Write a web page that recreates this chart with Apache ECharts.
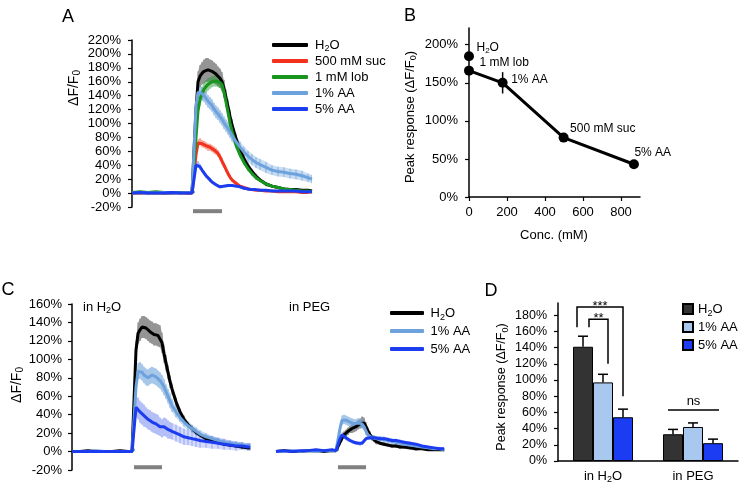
<!DOCTYPE html>
<html><head><meta charset="utf-8">
<script src="https://cdn.jsdelivr.net/npm/echarts@6/dist/echarts.min.js"></script>
<style>html,body{margin:0;padding:0;background:#fff}#c{width:752px;height:487px}</style>
</head><body><div id="c"></div>
<script>
// ---------- Panel A (time course, index units) ----------
const tA = [0,4,8,12,16,20,24,28,30,31,32,33,34,35,36,37,38,39,40,41,42,43,44,45,46,47,48,49,50,52,54,56,58,60,62,64,67,70,73,76,79,82,85,88,90];
const aH2O = [0,1,0,1,0,0,1,0, 0,2, 120,160,168,172,175,177,177,176,175,173, 171,168,165,160,150,137,124,110,98, 78,62,49,39,31,24,19,13,10,8,6,5,5,4,4,3];
const aSuc = [0,0,1,0,0,1,0,0, 0,1, 55,72,74,71,70,68,66,66,64,62, 60,57,52,46,40,34,28,23,19, 14,10,8,6,5,4,4,3,3,2,2,2,2,1,1,2];
const aLob = [1,2,1,2,1,1,1,1, 1,2, 80,118,135,143,149,153,156,158,160,161, 161,160,159,156,145,131,116,101,89, 69,55,44,35,28,22,18,13,10,8,6,5,4,3,3,2];
const aAA1 = [0,1,0,0,1,0,0,1, 0,2, 125,145,146,143,140,136,132,129,126,121, 117,114,110,106,101,97,93,88,83, 74,66,59,53,48,44,41,37,33,31,30,28,27,25,22,20];
const aAA5 = [0,1,0,0,0,1,0,0, 0,1, 40,42,38,33,29,25,22,19,16,14, 12,10,9,9,10,10,11,11,11, 10,9,7,6,5,5,4,4,3,3,3,3,3,2,2,2];
const aH2OErr = [1,1,1,1,1,1,1,1, 1,1, 10,15,16,16,17,17,17,16,16,15, 15,14,14,14,13,12,11,10,9, 8,7,6,5,4,4,3,3,2,2,2,2,1,1,1,1];
const aSucErr = [1,1,1,1,1,1,1,1, 1,1, 4,5,5,5,5,5,5,5,5,5, 5,5,5,5,4,4,4,3,3, 3,2,2,2,1,1,1,1,1,1,1,1,1,1,1,1];
const aLobErr = [1,1,1,1,1,1,1,1, 1,1, 8,9,10,10,10,9,9,8,8,8, 8,8,8,8,8,7,7,6,6, 5,4,4,3,3,3,2,2,2,2,1,1,1,1,1,1];
const aAA1Err = [1,1,1,1,1,1,1,1, 1,1, 8,9,9,9,9,9,9,9,9,9, 9,9,9,9,9,9,9,9,9, 8,8,8,8,8,8,8,8,7,7,7,7,7,7,6,6];
const aAA5Err = [1,1,1,1,1,1,1,1, 1,1, 3,4,4,3,3,3,3,3,2,2, 2,2,2,2,2,2,2,2,2, 2,2,2,1,1,1,1,1,1,1,1,1,1,1,1,1];
const stimA = [30.5, 45];
const stimALevel = -26;

// ---------- Panel B ----------
const bConc = [0, 0, 177, 498, 868];
const bPeak = [185, 166, 150, 78, 43];
const bErr = [4, 4, 14, 4, 3];
const bLabels = ['H2O', '1 mM lob', '1% AA', '500 mM suc', '5% AA'];

// ---------- Panel C ----------
const tC = [0,4,8,12,16,20,24,28,30,31,32,33,34,35,36,37,38,39,40,41,42,43,44,45,46,47,48,49,50,52,54,56,58,60,62,64,67,70,73,76,79,82,85,88,89];
const cH2O = [0,0,1,0,0,0,1,0, 0,2, 110,128,132,135,135,134,132,130,129,127, 127,126,125,118,106,96,86,76,68, 54,43,35,29,25,21,18,14,12,10,8,7,6,5,4,4];
const cAA1 = [0,0,0,1,0,0,0,0, 0,2, 70,87,88,86,83,81,80,82,83,82, 81,79,77,74,70,65,60,55,50, 43,37,32,28,25,22,19,16,14,12,10,9,8,7,6,6];
const cAA5 = [0,0,0,0,0,0,0,0, 0,2, 48,47,43,41,39,37,35,34,32,31, 30,29,27,25,27,26,24,23,22, 20,18,16,15,14,13,12,11,10,9,8,7,6,6,5,5];
const cH2OErr = [1,1,1,1,1,1,1,1, 1,1, 10,12,12,12,12,12,12,12,12,12, 12,12,12,11,10,9,8,7,6, 5,4,4,3,3,3,2,2,2,2,2,2,2,2,2,2];
const cAA1Err = [1,1,1,1,1,1,1,1, 1,1, 8,9,9,9,9,9,9,9,9,9, 9,9,9,9,9,8,8,8,7, 6,5,5,5,4,4,4,4,3,3,3,3,3,3,3,3];
const cAA5Err = [1,1,1,1,1,1,1,1, 1,1, 10,12,12,12,12,11,11,11,11,11, 11,11,10,10,10,10,10,9,9, 9,9,9,8,8,8,8,7,7,6,6,5,5,4,4,4];
const tP = [0,4,8,12,16,20,24,28,30,31,32,33,34,35,36,37,38,39,40,41,42,43,44,45,46,47,48,49,50,52,54,56,58,60,62,64,67,70,73,76,79,82,84];
const pH2O = [0,1,0,0,1,1,0,1, 1,2, 10,15,18,20,22,24,25,26,27,29, 30,32,31,27,22,18,15,13,11, 9,8,7,6,6,5,5,4,3,3,2,2,2,2];
const pAA1 = [0,0,1,0,1,0,1,1, 1,2, 25,34,35,34,33,32,31,30,30,31, 31,30,27,22,18,16,15,15,14, 14,13,12,11,10,9,8,7,6,5,4,3,3,2];
const pAA5 = [0,1,0,1,1,2,1,2, 1,2, 14,18,17,15,13,12,11,10,9,9, 8,9,11,14,15,15,15,15,15, 14,14,13,12,12,11,10,9,8,6,5,4,3,3];
const pH2OErr = [1,1,1,1,1,1,1,1, 1,1, 3,4,4,4,4,4,5,5,5,5, 5,6,6,5,4,4,3,3,3, 2,2,2,2,2,2,2,2,2,1,1,1,1,1];
const pAA1Err = [1,1,1,1,1,1,1,1, 1,1, 4,5,5,5,5,5,5,5,5,5, 5,5,4,4,4,3,3,3,3, 3,3,3,3,3,2,2,2,2,2,2,2,2,2];
const pAA5Err = [1,1,1,1,1,1,1,1, 1,1, 2,3,3,3,2,2,2,2,2,2, 2,2,2,2,2,2,2,2,2, 2,2,2,2,2,2,2,2,1,1,1,1,1,1];
const stimC = [31, 45];
const stimCLevel = -17;

// ---------- Panel D ----------
const dGroups = ['in H2O', 'in PEG'];
const dNames = ['H2O', '1% AA', '5% AA'];
const dH2O = [141, 33];
const dAA1 = [97, 42];
const dAA5 = [54, 22];
const dH2OErr = [13, 6];
const dAA1Err = [10, 5];
const dAA5Err = [10, 5];
const sigLabels = ['***', '**', 'ns'];
const sigGroup = [0, 0, 1];
const sigFromBar = [0, 0, 0];
const sigToBar = [2, 1, 2];
const sigLevel = [190, 175, 63];
const sigFromEnd = [165, 165, null];
const sigToEnd = [80, 120, null];

// ---------- styling ----------
const FONT = "'Liberation Sans', Arial, Helvetica, sans-serif";
const COL = {h2o:'#000000', suc:'#f3321e', lob:'#17951e', aa1:'#6ea2dc', aa5:'#1c3cf0'};
function richT(fs, lh) {
  const sf = Math.round(fs * 0.7);
  return { a:{fontSize:fs, fontFamily:FONT, color:'#000', lineHeight:lh},
           s:{fontSize:sf, fontFamily:FONT, color:'#000', lineHeight:sf, verticalAlign:'bottom'} };
}
function richG(fs, lh) {
  const sf = Math.round(fs * 0.7);
  return { a:{fontSize:fs, fontFamily:FONT, fill:'#000', lineHeight:lh},
           s:{fontSize:sf, fontFamily:FONT, fill:'#000', lineHeight:sf, verticalAlign:'bottom'} };
}
function fmtSub(str) { return '{a|' + str.replace('H2O', 'H}{s|2}{a|O') + '}'; }

const axisLineStyle = {color:'#000', width:1.5};
function yAxisVisible(grid, min, max, interval, custom, fs, margin) {
  const ax = {gridIndex:grid, type:'value', min, max,
    axisLine:{show:true, lineStyle:axisLineStyle},
    axisTick:{show:true, length:4, inside:false, lineStyle:{color:'#000', width:1.2}},
    axisLabel:{show:true, formatter:'{value}%', fontSize:fs, fontFamily:FONT, color:'#000', margin},
    splitLine:{show:false}};
  if (interval) ax.interval = interval;
  if (custom) { ax.axisTick.customValues = custom; ax.axisLabel.customValues = custom; }
  return ax;
}

function lineS(name, ax, t, v, color, w) {
  return {type:'line', name, xAxisIndex:ax, yAxisIndex:ax, data:t.map((x,i)=>[x, v[i]]),
    symbol:'none', lineStyle:{color, width:w || 3}, itemStyle:{color}, color, silent:true, z:3};
}
function bandS(name, ax, t, v, e, fill, stroke) {
  return {type:'custom', name, xAxisIndex:ax, yAxisIndex:ax, silent:true, z:2, clip:true,
    data:t.map((x,i)=>[x, v[i]-(e[i]||0), v[i]+(e[i]||0)]), encode:{x:0, y:[1,2]},
    renderItem:(params, api) => {
      const i = params.dataIndex;
      const ei = e[i] || 0;
      const lo = api.coord([t[i], v[i]-ei]), hi = api.coord([t[i], v[i]+ei]);
      const children = [{type:'line', shape:{x1:lo[0], y1:lo[1], x2:hi[0], y2:hi[1]}, style:{stroke, lineWidth:1.3}}];
      if (i === 0) {
        const up = t.map((x,j)=>api.coord([x, v[j]+(e[j]||0)]));
        const dn = t.map((x,j)=>api.coord([x, v[j]-(e[j]||0)])).reverse();
        children.unshift({type:'polygon', shape:{points:up.concat(dn)}, style:{fill}});
      }
      return {type:'group', children};
    }};
}
function stimS(ax, range, level) {
  return {type:'line', xAxisIndex:ax, yAxisIndex:ax, data:range.map(x=>[x, level]), symbol:'none',
    clip:false, silent:true, lineStyle:{color:'#808080', width:4, cap:'butt'}, z:3};
}

const series = [];
// Panel A
series.push(bandS('A:H2O e', 0, tA, aH2O, aH2OErr, 'rgba(125,125,125,0.55)', 'rgba(95,95,95,0.6)'));
series.push(bandS('A:suc e', 0, tA, aSuc, aSucErr, 'rgba(243,60,40,0.28)', 'rgba(243,60,40,0.4)'));
series.push(bandS('A:lob e', 0, tA, aLob, aLobErr, 'rgba(30,150,40,0.28)', 'rgba(30,150,40,0.4)'));
series.push(bandS('A:aa1 e', 0, tA, aAA1, aAA1Err, 'rgba(110,162,220,0.38)', 'rgba(110,162,220,0.55)'));
series.push(bandS('A:aa5 e', 0, tA, aAA5, aAA5Err, 'rgba(40,70,240,0.25)', 'rgba(40,70,240,0.35)'));
series.push(lineS('A:H2O', 0, tA, aH2O, COL.h2o));
series.push(lineS('A:500 mM suc', 0, tA, aSuc, COL.suc));
series.push(lineS('A:1 mM lob', 0, tA, aLob, COL.lob));
series.push(lineS('A:1% AA', 0, tA, aAA1, COL.aa1));
series.push(lineS('A:5% AA', 0, tA, aAA5, COL.aa5));
series.push(stimS(0, stimA, stimALevel));

// Panel B
series.push({type:'custom', xAxisIndex:1, yAxisIndex:1, silent:true, z:2,
  data:bConc.map((c,i)=>[c, bPeak[i]-bErr[i], bPeak[i]+bErr[i]]), encode:{x:0, y:[1,2]},
  renderItem:(params, api) => {
    const lo = api.coord([api.value(0), api.value(1)]), hi = api.coord([api.value(0), api.value(2)]);
    return {type:'line', shape:{x1:lo[0], y1:lo[1], x2:hi[0], y2:hi[1]}, style:{stroke:'#000', lineWidth:1.5}};
  }});
const bLabelOffset = [[2.5,-8],[5.5,-8],[3.5,-3],[1.5,-9],[-4.5,-12]];
function bLabel(i) {
  return {show:true, position:'right', distance:0, offset:bLabelOffset[i], align:'left', verticalAlign:'middle',
    formatter:()=>fmtSub(bLabels[i]), rich:richT(12, 14), opacity:1};
}
series.push({type:'line', name:'B:curve', xAxisIndex:1, yAxisIndex:1, silent:true, z:3,
  data:bConc.slice(1).map((c,i)=>({value:[c, bPeak[i+1]], label:bLabel(i+1)})),
  symbol:'circle', symbolSize:10, lineStyle:{color:'#000', width:3}, itemStyle:{color:'#000', opacity:1}});
series.push({type:'scatter', name:'B:H2O', xAxisIndex:1, yAxisIndex:1, silent:true, z:3,
  data:[{value:[bConc[0], bPeak[0]], label:bLabel(0)}], symbol:'circle', symbolSize:10,
  itemStyle:{color:'#000', opacity:1}});

// Panel C
series.push(bandS('C:H2O e', 2, tC, cH2O, cH2OErr, 'rgba(125,125,125,0.55)', 'rgba(95,95,95,0.6)'));
series.push(bandS('C:aa1 e', 2, tC, cAA1, cAA1Err, 'rgba(110,162,220,0.38)', 'rgba(110,162,220,0.55)'));
series.push(bandS('C:aa5 e', 2, tC, cAA5, cAA5Err, 'rgba(60,90,240,0.22)', 'rgba(60,90,240,0.32)'));
series.push(lineS('C:H2O', 2, tC, cH2O, COL.h2o));
series.push(lineS('C:1% AA', 2, tC, cAA1, COL.aa1));
series.push(lineS('C:5% AA', 2, tC, cAA5, COL.aa5));
series.push(stimS(2, stimC, stimCLevel));
series.push(bandS('P:H2O e', 3, tP, pH2O, pH2OErr, 'rgba(125,125,125,0.55)', 'rgba(95,95,95,0.6)'));
series.push(bandS('P:aa1 e', 3, tP, pAA1, pAA1Err, 'rgba(110,162,220,0.38)', 'rgba(110,162,220,0.55)'));
series.push(bandS('P:aa5 e', 3, tP, pAA5, pAA5Err, 'rgba(60,90,240,0.22)', 'rgba(60,90,240,0.32)'));
series.push(lineS('C:H2O', 3, tP, pH2O, COL.h2o));
series.push(lineS('C:1% AA', 3, tP, pAA1, COL.aa1));
series.push(lineS('C:5% AA', 3, tP, pAA5, COL.aa5));
series.push(stimS(3, stimC, stimCLevel));

// Panel D
const dVals = [dH2O, dAA1, dAA5];
const dErrs = [dH2OErr, dAA1Err, dAA5Err];
const dColors = ['#333333', '#a9c8ef', '#1b3cf2'];
const BARW = 20;
dVals.forEach((vals, k) => {
  series.push({type:'bar', name:'D:' + dNames[k], xAxisIndex:4, yAxisIndex:4, data:vals, barWidth:BARW, barGap:'0%',
    itemStyle:{color:dColors[k], borderColor:'#000', borderWidth:1}, silent:true, z:2});
});
dVals.forEach((vals, k) => {
  series.push({type:'custom', xAxisIndex:4, yAxisIndex:4, silent:true, z:3,
    data:vals.map((v,g)=>[g, v, v + dErrs[k][g]]),
    renderItem:(params, api) => {
      const g = api.value(0);
      const base = api.coord([g, api.value(1)]);
      const top = api.coord([g, api.value(2)]);
      const cx = base[0] + (k - 1) * BARW;
      return {type:'group', children:[
        {type:'line', shape:{x1:cx, y1:base[1], x2:cx, y2:top[1]}, style:{stroke:'#000', lineWidth:1.5}},
        {type:'line', shape:{x1:cx-5, y1:top[1], x2:cx+5, y2:top[1]}, style:{stroke:'#000', lineWidth:1.5}}
      ]};
    }});
});
const sigLegOffset = [[-6, 0], [6, 5], [-5, 6]];
series.push({type:'custom', xAxisIndex:4, yAxisIndex:4, silent:true, z:4, clip:false,
  data:sigLabels.map((l,i)=>[sigGroup[i], sigLevel[i]]),
  renderItem:(params, api) => {
    const i = params.dataIndex;
    const g = sigGroup[i];
    const c = api.coord([g, 0])[0];
    const xa = c + (sigFromBar[i]-1)*BARW + sigLegOffset[i][0];
    const xb = c + (sigToBar[i]-1)*BARW + sigLegOffset[i][1];
    const yTop = api.coord([g, sigLevel[i]])[1];
    const pts = [];
    if (sigFromEnd[i] !== null) pts.push([xa, api.coord([g, sigFromEnd[i]])[1]]);
    pts.push([xa, yTop]); pts.push([xb, yTop]);
    if (sigToEnd[i] !== null) pts.push([xb, api.coord([g, sigToEnd[i]])[1]]);
    const isStar = sigLabels[i].indexOf('*') >= 0;
    return {type:'group', children:[
      {type:'polyline', shape:{points:pts}, style:{stroke:'#000', lineWidth:1.5, fill:null}},
      {type:'text', x:(xa+xb)/2, y: isStar ? yTop - 0.5 : yTop - 2,
        style:{text:sigLabels[i], fontSize:13, fontFamily:FONT, fill:'#000', align:'center',
               verticalAlign: isStar ? 'middle' : 'bottom'}}
    ]};
  }});

const option = {
  animation:false,
  backgroundColor:'#ffffff',
  textStyle:{fontFamily:FONT},
  grid:[
    {left:132, top:40, width:180, height:167},
    {left:469, top:28, width:171, height:169},
    {left:72, top:304, width:180, height:166},
    {left:276, top:304, width:180, height:166},
    {left:558, top:303, width:180, height:158}
  ],
  xAxis:[
    {gridIndex:0, type:'value', min:0, max:90, show:false},
    {gridIndex:1, type:'value', min:0, max:900,
      axisLine:{show:true, lineStyle:axisLineStyle},
      axisTick:{show:true, length:4, customValues:[0,200,400,600,800], lineStyle:{color:'#000', width:1.2}},
      axisLabel:{customValues:[0,200,400,600,800], fontSize:13, fontFamily:FONT, color:'#000', margin:9},
      splitLine:{show:false}},
    {gridIndex:2, type:'value', min:0, max:90, show:false},
    {gridIndex:3, type:'value', min:0, max:90, show:false},
    {gridIndex:4, type:'category', data:dGroups,
      axisLine:{show:true, lineStyle:axisLineStyle}, axisTick:{show:false},
      axisLabel:{interval:0, hideOverlap:false, formatter:(v)=>fmtSub(v), rich:richT(13, 16), margin:7}}
  ],
  yAxis:[
    yAxisVisible(0, -20, 220, 20, null, 13, 11),
    yAxisVisible(1, 0, 222, null, [0,50,100,150,200], 13, 11),
    yAxisVisible(2, -20, 160, 20, null, 13, 10),
    {gridIndex:3, type:'value', min:-20, max:160, interval:20, show:false},
    yAxisVisible(4, 0, 195, null, [0,20,40,60,80,100,120,140,160,180], 12.5, 11)
  ],
  legend:[
    {data:['A:H2O','A:500 mM suc','A:1 mM lob','A:1% AA','A:5% AA'], left:272, top:37, orient:'vertical',
      icon:'roundRect', itemWidth:36, itemHeight:4, itemGap:0, padding:0, selectedMode:false,
      formatter:(n)=>fmtSub(n.slice(2)), textStyle:{fontSize:13, fontFamily:FONT, color:'#000', lineHeight:16, padding:[0,0,0,2], rich:richT(13, 16)}},
    {data:['C:H2O','C:1% AA','C:5% AA'], left:390, top:304, orient:'vertical',
      icon:'roundRect', itemWidth:34, itemHeight:4, itemGap:0, padding:0, selectedMode:false,
      formatter:(n)=>fmtSub(n.slice(2)), textStyle:{fontSize:13, fontFamily:FONT, color:'#000', lineHeight:18, padding:[0,0,0,1.5], rich:richT(13, 18)}},
    {data:['D:H2O','D:1% AA','D:5% AA'], left:682, top:300, orient:'vertical',
      icon:'rect', itemWidth:10, itemHeight:10, itemGap:0, padding:0, selectedMode:false,
      formatter:(n)=>fmtSub(n.slice(2)), textStyle:{fontSize:13, fontFamily:FONT, color:'#000', lineHeight:18, rich:richT(13, 18)}}
  ],
  graphic:[
    {type:'text', x:68, y:17, style:{text:'A', fontSize:18, fontFamily:FONT, fill:'#000', align:'center', verticalAlign:'middle'}},
    {type:'text', x:410, y:16, style:{text:'B', fontSize:18, fontFamily:FONT, fill:'#000', align:'center', verticalAlign:'middle'}},
    {type:'text', x:8, y:290, style:{text:'C', fontSize:18, fontFamily:FONT, fill:'#000', align:'center', verticalAlign:'middle'}},
    {type:'text', x:491, y:291, style:{text:'D', fontSize:18, fontFamily:FONT, fill:'#000', align:'center', verticalAlign:'middle'}},
    {type:'text', x:74, y:88, rotation:Math.PI/2, style:{text:'{a|ΔF/F}{s|0}', rich:richG(14, 16), align:'center', verticalAlign:'middle'}},
    {type:'text', x:17, y:385, rotation:Math.PI/2, style:{text:'{a|ΔF/F}{s|0}', rich:richG(14, 16), align:'center', verticalAlign:'middle'}},
    {type:'text', x:410, y:117, rotation:Math.PI/2, style:{text:'{a|Peak response (ΔF/F}{s|0}{a|)}', rich:richG(13, 16), align:'center', verticalAlign:'middle'}},
    {type:'text', x:502, y:387, rotation:Math.PI/2, style:{text:'{a|Peak response (ΔF/F}{s|0}{a|)}', rich:richG(12.5, 16), align:'center', verticalAlign:'middle'}},
    {type:'text', x:554, y:235, style:{text:'Conc. (mM)', fontSize:13, fontFamily:FONT, fill:'#000', align:'center', verticalAlign:'middle'}},
    {type:'text', x:83, y:307, style:{text:'{a|in H}{s|2}{a|O}', rich:richG(13, 16), align:'left', verticalAlign:'middle'}},
    {type:'text', x:289, y:307, style:{text:'in PEG', fontSize:13, fontFamily:FONT, fill:'#000', align:'left', verticalAlign:'middle'}}
  ],
  series
};
const chart = echarts.init(document.getElementById('c'), null, {renderer:'canvas'});
chart.setOption(option);
</script></body></html>
